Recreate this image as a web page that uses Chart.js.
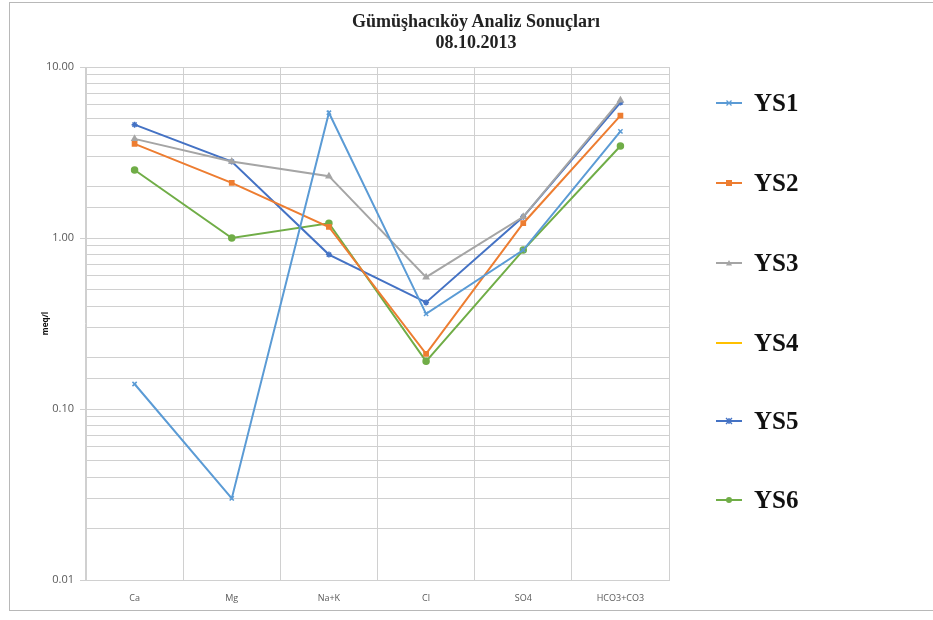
<!DOCTYPE html>
<html>
<head>
<meta charset="utf-8">
<script src="https://cdn.jsdelivr.net/npm/chart.js@4.4.1/dist/chart.umd.min.js"></script>
<style>
  html, body { margin: 0; padding: 0; background: #fff; }
  #wrap { position: relative; width: 933px; height: 620px; overflow: hidden; }
  #frame { position: absolute; left: 9px; top: 2px; width: 940px; height: 609px;
           border: 1px solid #b8b8b8; box-sizing: border-box; }
  #chart { position: absolute; left: 0; top: 0; }
  #title { position: absolute; left: 276px; width: 400px; top: 11px; text-align: center;
           font-family: "Liberation Serif", "Times New Roman", serif; font-weight: bold;
           font-size: 18px; line-height: 21px; color: #222; }
  #legend { position: absolute; left: 0; top: 0; }
  .item { position: absolute; height: 30px; display: flex; align-items: center; }
  .item span { font-family: "Liberation Serif", "Times New Roman", serif; font-weight: bold;
               font-size: 25px; color: #111; margin-left: 12px; }
</style>
</head>
<body>
<div id="wrap">
  <div id="frame"></div>
  <canvas id="chart" width="870" height="620"></canvas>
  <div id="title"></div>
  <div id="legend"></div>
</div>
<script>
// Ion concentrations (meq/l) per sampling point
const titleLines = ["Gümüşhacıköy Analiz Sonuçları", "08.10.2013"];
const categories = ["Ca", "Mg", "Na+K", "Cl", "SO4", "HCO3+CO3"];
const seriesNames = ["YS1", "YS2", "YS3", "YS4", "YS5", "YS6"];
const ys1 = [0.14, 0.03, 5.4, 0.36, 0.85, 4.2];
const ys2 = [3.55, 2.1, 1.16, 0.21, 1.22, 5.2];
const ys3 = [3.8, 2.8, 2.3, 0.59, 1.33, 6.4];
const ys4 = [null, null, null, null, null, null];
const ys5 = [4.6, 2.8, 0.8, 0.42, 1.33, 6.2];
const ys6 = [2.5, 1.0, 1.22, 0.19, 0.85, 3.45];
const majorTicks = [0.01, 0.1, 1, 10];

const colors = ["#5B9BD5", "#ED7D31", "#A5A5A5", "#FFC000", "#4472C4", "#70AD47"];
const markers = ["crossRot", "rect", "triangle", false, "star", "circle"];
const values = [ys1, ys2, ys3, ys4, ys5, ys6];

const isMajor = v => majorTicks.some(m => Math.abs(v - m) / m < 1e-6);

document.getElementById('title').innerHTML = titleLines.join('<br>');

const datasets = seriesNames.map((name, i) => ({
  label: name,
  data: values[i],
  borderColor: colors[i],
  backgroundColor: colors[i],
  borderWidth: 2,
  pointStyle: markers[i],
  pointRadius: markers[i] ? 3 : 0,
  pointBorderWidth: 1.5,
  tension: 0,
  spanGaps: false
}));

new Chart(document.getElementById('chart'), {
  type: 'line',
  data: { labels: categories, datasets },
  options: {
    responsive: false,
    animation: false,
    layout: { padding: { left: 41, right: 201, top: 67, bottom: 0 } },
    plugins: {
      legend: { display: false },
      tooltip: { enabled: false },
      title: { display: false }
    },
    scales: {
      x: {
        type: 'category',
        offset: true,
        grid: { offset: true, color: '#d0d0d0', lineWidth: 1, drawTicks: false },
        border: { color: '#d0d0d0' },
        ticks: { color: '#595959', font: { family: "'Open Sans', sans-serif", size: 9 }, padding: 13 },
        afterFit: s => { s.height = 40; }
      },
      y: {
        type: 'logarithmic',
        min: 0.01,
        max: 10,
        grid: {
          color: '#d0d0d0',
          lineWidth: 1,
          tickLength: 6,
          tickColor: c => (c.tick && isMajor(c.tick.value)) ? '#d0d0d0' : 'rgba(0,0,0,0)'
        },
        border: { color: '#d0d0d0' },
        title: {
          display: true,
          text: 'meq/l',
          color: '#111',
          font: { family: "'Open Sans', sans-serif", size: 8, weight: 'bold' },
          padding: { top: 0, bottom: 0 }
        },
        ticks: {
          autoSkip: false,
          color: '#595959',
          font: { family: "'Open Sans', sans-serif", size: 11 },
          padding: 6,
          callback: v => isMajor(v) ? Number(v).toFixed(2) : ''
        },
        afterFit: s => { s.width = 45; }
      }
    }
  }
});

// Legend on the right: line sample with marker, then the series name
const legend = document.getElementById('legend');
const legendY = [103, 183, 263, 343, 421, 500];
function markerSvg(style, color) {
  const cx = 13, cy = 8;
  switch (style) {
    case 'rect': return `<rect x="${cx-3}" y="${cy-3}" width="6" height="6" fill="${color}"/>`;
    case 'circle': return `<circle cx="${cx}" cy="${cy}" r="3" fill="${color}"/>`;
    case 'triangle': return `<polygon points="${cx},${cy-3} ${cx+3},${cy+2.5} ${cx-3},${cy+2.5}" fill="${color}"/>`;
    case 'star': return `<path d="M${cx-3} ${cy-3}L${cx+3} ${cy+3}M${cx+3} ${cy-3}L${cx-3} ${cy+3}M${cx} ${cy-3}L${cx} ${cy+3}" stroke="${color}" stroke-width="1.3"/>`;
    case 'crossRot': return `<path d="M${cx-2.5} ${cy-2.5}L${cx+2.5} ${cy+2.5}M${cx+2.5} ${cy-2.5}L${cx-2.5} ${cy+2.5}" stroke="${color}" stroke-width="1.3"/>`;
    default: return '';
  }
}
seriesNames.forEach((name, i) => {
  const el = document.createElement('div');
  el.className = 'item';
  el.style.left = '716px';
  el.style.top = (legendY[i] - 15) + 'px';
  el.innerHTML = `<svg width="26" height="16"><line x1="0" y1="8" x2="26" y2="8" stroke="${colors[i]}" stroke-width="2"/>${markerSvg(markers[i], colors[i])}</svg><span>${name}</span>`;
  legend.appendChild(el);
});
</script>
</body>
</html>
